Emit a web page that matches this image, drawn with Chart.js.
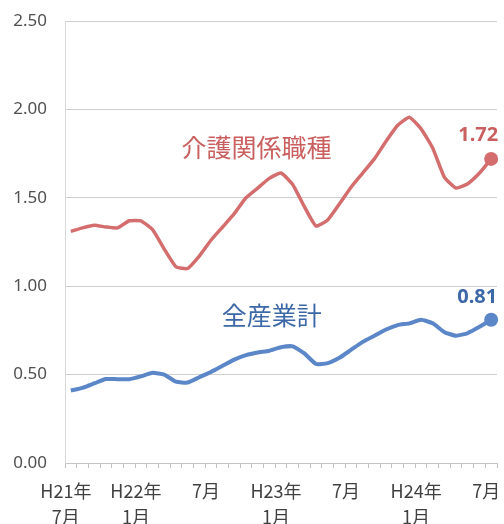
<!DOCTYPE html>
<html>
<head>
<meta charset="utf-8">
<script src="https://cdn.jsdelivr.net/npm/chart.js@4"></script>
<style>
  html, body { margin: 0; padding: 0; background: #fff; }
  #wrap { width: 504px; height: 524px; }
</style>
</head>
<body>
<div id="wrap"><canvas id="chart" width="504" height="524"></canvas></div>
<script>
// H21/7 .. H24/7 (monthly)
const months = [
  ["H21年", "7月"], "", "", "", "", "",
  ["H22年", "1月"], "", "", "", "", "",
  "7月", "", "", "", "", "",
  ["H23年", "1月"], "", "", "", "", "",
  "7月", "", "", "", "", "",
  ["H24年", "1月"], "", "", "", "", "",
  "7月"
];

const kaigo = [
  1.31, 1.33, 1.345, 1.335, 1.33, 1.37, 1.37, 1.32, 1.21, 1.11, 1.10, 1.17,
  1.26, 1.335, 1.41, 1.50, 1.555, 1.61, 1.64, 1.575, 1.45, 1.34, 1.375, 1.465,
  1.56, 1.64, 1.72, 1.82, 1.91, 1.955, 1.89, 1.78, 1.615, 1.555, 1.58, 1.64,
  1.72
];

const zensangyo = [
  0.41, 0.425, 0.45, 0.475, 0.474, 0.474, 0.49, 0.51, 0.50, 0.46, 0.455, 0.485,
  0.515, 0.55, 0.585, 0.61, 0.625, 0.635, 0.655, 0.66, 0.62, 0.56, 0.565, 0.595,
  0.64, 0.685, 0.72, 0.755, 0.78, 0.79, 0.81, 0.79, 0.74, 0.72, 0.735, 0.77,
  0.81
];

const seriesNames = ["介護関係職種", "全産業計"];
const yTicks = [0, 0.5, 1.0, 1.5, 2.0, 2.5];

const redLine = "#d46e6e";
const redText = "#c95f5f";
const blueLine = "#5b87c9";
const blueText = "#3d68a8";

const last = kaigo.length - 1;

// series names and end values
const textPlugin = {
  id: "labels",
  afterDatasetsDraw(chart) {
    const c = chart.ctx;
    const x = chart.scales.x, y = chart.scales.y;
    c.save();
    c.textAlign = "center";
    c.textBaseline = "middle";

    c.font = "25px 'Noto Sans CJK JP'";
    c.fillStyle = redText;
    c.fillText(seriesNames[0], x.getPixelForValue(15.9), y.getPixelForValue(1.785));
    c.fillStyle = blueText;
    c.fillText(seriesNames[1], x.getPixelForValue(17.2), y.getPixelForValue(0.836));

    c.font = "bold 20px 'Noto Sans'";
    const rp = chart.getDatasetMeta(0).data[last];
    c.fillStyle = redText;
    c.fillText(kaigo[last].toFixed(2), rp.x - 13, rp.y - 24);
    const bp = chart.getDatasetMeta(1).data[last];
    c.fillStyle = blueText;
    c.fillText(zensangyo[last].toFixed(2), bp.x - 14, bp.y - 22);
    c.restore();
  }
};

const ctx = document.getElementById("chart").getContext("2d");
new Chart(ctx, {
  type: "line",
  data: {
    labels: months,
    datasets: [
      {
        label: seriesNames[0],
        data: kaigo,
        borderColor: redLine,
        backgroundColor: redLine,
        borderWidth: 3.5,
        tension: 0.15,
        pointRadius: c => c.dataIndex === last ? 7 : 0,
        pointBorderWidth: 0
      },
      {
        label: seriesNames[1],
        data: zensangyo,
        borderColor: blueLine,
        backgroundColor: blueLine,
        borderWidth: 4,
        tension: 0.15,
        pointRadius: c => c.dataIndex === last ? 7 : 0,
        pointBorderWidth: 0
      }
    ]
  },
  options: {
    responsive: false,
    animation: false,
    layout: { padding: { top: 21, right: 6, left: 0, bottom: 0 } },
    plugins: {
      legend: { display: false },
      tooltip: { enabled: false }
    },
    scales: {
      x: {
        offset: true,
        grid: {
          offset: true,
          drawOnChartArea: false,
          drawTicks: true,
          tickLength: 5,
          color: "#c4c4c4"
        },
        border: { color: "#c4c4c4", width: 1 },
        ticks: {
          autoSkip: false,
          maxRotation: 0,
          padding: 11,
          labelOffset: -5,
          color: "#404040",
          font: { family: "'Noto Sans CJK JP'", size: 18, lineHeight: 1.4 }
        },
        afterFit(s) {
          s.height = 61;
          s.paddingLeft = 0;
          s.paddingRight = 0;
        }
      },
      y: {
        min: 0,
        max: 2.5,
        afterBuildTicks(s) { s.ticks = yTicks.map(v => ({ value: v })); },
        grid: { color: "#cfcfcf", drawTicks: false },
        border: { color: "#d8d8d8", width: 1 },
        ticks: {
          padding: 18,
          color: "#505050",
          font: { family: "'Noto Sans'", size: 17 },
          callback: v => v.toFixed(2)
        },
        afterFit(s) {
          s.width = 65;
          s.paddingTop = 0;
          s.paddingBottom = 0;
        }
      }
    }
  },
  plugins: [textPlugin]
});
</script>
</body>
</html>
